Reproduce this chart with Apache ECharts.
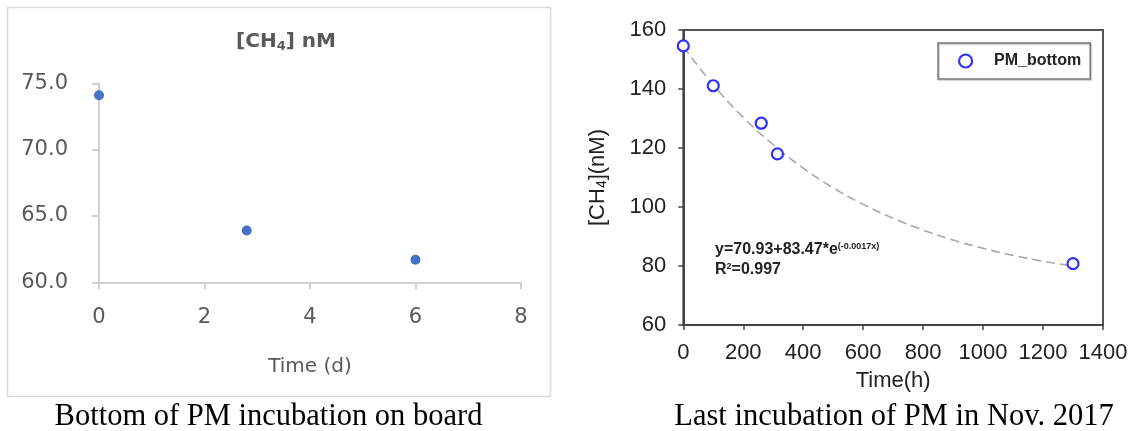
<!DOCTYPE html>
<html>
<head>
<meta charset="utf-8">
<script src="https://cdn.jsdelivr.net/npm/echarts@6/dist/echarts.min.js"></script>
<style>
html,body{margin:0;padding:0;background:#fff;}
#chart{width:1131px;height:431px;}
</style>
</head>
<body>
<div id="chart"></div>
<script>
// ---- Left panel: Bottom of PM incubation on board ----
const leftDays = [0, 2.8, 6];
const leftCH4 = [74.1, 63.9, 61.7];
const leftXTicks = { min: 0, max: 8, interval: 2 };
const leftYTicks = { min: 60, max: 75, interval: 5 };

// ---- Right panel: Last incubation of PM in Nov. 2017 ----
const rightHours = [0, 100, 260, 314, 1300];
const rightCH4 = [154.6, 141.1, 128.4, 118.0, 80.8];
// dashed fitted curve
const fitHours = [0, 100, 200, 300, 400, 500, 600, 700, 800, 900, 1000, 1100, 1200, 1300];
const fitCH4 = [154.4, 141.4, 130.4, 121.1, 113.2, 106.5, 100.9, 96.2, 92.2, 88.8, 86.0, 83.6, 81.6, 80.0];
const rightXTicks = { min: 0, max: 1400, interval: 200 };
const rightYTicks = { min: 60, max: 160, interval: 20 };

const leftCaption = 'Bottom of PM incubation on board';
const rightCaption = 'Last incubation of PM in Nov. 2017';
const seriesName = 'PM_bottom';

const chart = echarts.init(document.getElementById('chart'), null, { renderer: 'canvas' });

const leftAxisColor = '#d0d0d0';
const leftTextColor = '#595959';
const leftFont = 'DejaVu Sans';
const rightAxisColor = '#444';
const rightTextColor = '#222';
const rightFont = 'Liberation Sans';

const option = {
  animation: false,
  backgroundColor: '#fff',
  grid: [
    { left: 99, right: 610, top: 83.3, bottom: 148.7, containLabel: false },
    { left: 683.3, right: 28, top: 30, bottom: 106, containLabel: false,
      show: true, borderColor: '#555', borderWidth: 2, backgroundColor: 'transparent' }
  ],
  xAxis: [
    {
      gridIndex: 0, type: 'value', min: leftXTicks.min, max: leftXTicks.max, interval: leftXTicks.interval,
      name: 'Time (d)', nameLocation: 'middle', nameGap: 74,
      nameTextStyle: { color: leftTextColor, fontFamily: leftFont, fontSize: 20 },
      axisLine: { show: true, onZero: false, lineStyle: { color: leftAxisColor, width: 2 } },
      axisTick: { show: true, inside: false, length: 7, lineStyle: { color: leftAxisColor, width: 2 } },
      axisLabel: { color: leftTextColor, fontFamily: leftFont, fontSize: 21, margin: 25 },
      splitLine: { show: false }
    },
    {
      gridIndex: 1, type: 'value', min: rightXTicks.min, max: rightXTicks.max, interval: rightXTicks.interval,
      name: 'Time(h)', nameLocation: 'middle', nameGap: 45,
      nameTextStyle: { color: rightTextColor, fontFamily: rightFont, fontSize: 22 },
      axisLine: { show: true, onZero: false, lineStyle: { color: rightAxisColor, width: 2 } },
      axisTick: { show: true, inside: false, length: 5, lineStyle: { color: rightAxisColor, width: 1.5 } },
      axisLabel: { color: rightTextColor, fontFamily: rightFont, fontSize: 22, margin: 17,
        formatter: v => String(v) },
      splitLine: { show: false }
    }
  ],
  yAxis: [
    {
      gridIndex: 0, type: 'value', min: leftYTicks.min, max: leftYTicks.max, interval: leftYTicks.interval,
      axisLine: { show: true, onZero: false, lineStyle: { color: leftAxisColor, width: 2 } },
      axisTick: { show: true, inside: false, length: 7, lineStyle: { color: leftAxisColor, width: 2 } },
      axisLabel: { color: leftTextColor, fontFamily: leftFont, fontSize: 21, margin: 31,
        formatter: v => v.toFixed(1) },
      splitLine: { show: false }
    },
    {
      gridIndex: 1, type: 'value', min: rightYTicks.min, max: rightYTicks.max, interval: rightYTicks.interval,
      name: '[CH{s|4}](nM)', nameLocation: 'middle', nameGap: 74, nameRotate: 90,
      nameTextStyle: { color: rightTextColor, fontFamily: rightFont, fontSize: 22, lineHeight: 22,
        rich: { s: { fontFamily: rightFont, fontSize: 14, color: rightTextColor, verticalAlign: 'bottom', lineHeight: 8 } } },
      axisLine: { show: true, onZero: false, lineStyle: { color: rightAxisColor, width: 2 } },
      axisTick: { show: true, inside: false, length: 5, lineStyle: { color: rightAxisColor, width: 1.5 } },
      axisLabel: { color: rightTextColor, fontFamily: rightFont, fontSize: 22, margin: 17 },
      splitLine: { show: false }
    }
  ],
  legend: {
    data: [seriesName],
    left: 938, top: 43,
    padding: [10, 9, 10, 20],
    itemWidth: 13, itemHeight: 13,
    borderColor: '#777', borderWidth: 1.5,
    shadowColor: 'rgba(0,0,0,0.25)', shadowOffsetX: 1, shadowOffsetY: 1, shadowBlur: 1,
    itemStyle: { color: '#fff', borderColor: '#3030ff', borderWidth: 2.2, opacity: 1 },
    textStyle: { fontFamily: rightFont, fontWeight: 'bold', fontSize: 16, color: '#222', padding: [0, 0, 0, 17] }
  },
  series: [
    {
      type: 'scatter', name: 'left', xAxisIndex: 0, yAxisIndex: 0,
      symbol: 'circle', symbolSize: 10,
      itemStyle: { color: '#4472C4', opacity: 1 },
      data: leftDays.map((d, i) => [d, leftCH4[i]])
    },
    {
      type: 'line', name: 'fit', xAxisIndex: 1, yAxisIndex: 1,
      smooth: true, showSymbol: false, symbol: 'none', z: 1,
      lineStyle: { color: '#a8a8a8', width: 1.6, type: [9, 5] },
      data: fitHours.map((h, i) => [h, fitCH4[i]])
    },
    {
      type: 'scatter', name: seriesName, xAxisIndex: 1, yAxisIndex: 1, z: 3,
      symbol: 'circle', symbolSize: 11,
      itemStyle: { color: '#fff', borderColor: '#3030ff', borderWidth: 2.2, opacity: 1 },
      data: rightHours.map((h, i) => [h, rightCH4[i]])
    }
  ],
  graphic: [
    {
      type: 'rect', silent: true, z: -1,
      shape: { x: 7.5, y: 7.5, width: 543, height: 389 },
      style: { fill: 'none', stroke: '#d9d9d9', lineWidth: 1.5 }
    },
    {
      type: 'text', x: 286, y: 42,
      style: {
        text: '[CH{s|4}] nM',
        font: 'bold 20px "DejaVu Sans"', fill: leftTextColor,
        align: 'center', verticalAlign: 'middle', lineHeight: 22,
        rich: { s: { font: 'bold 13px "DejaVu Sans"', fill: leftTextColor, verticalAlign: 'bottom', lineHeight: 6 } }
      }
    },
    {
      type: 'text', x: 715, y: 240,
      style: {
        text: 'y=70.93+83.47*e{p|(-0.0017x)}\nR{p|2}=0.997',
        font: 'bold 16px "Liberation Sans"', fill: '#222',
        align: 'left', verticalAlign: 'top', lineHeight: 20,
        rich: { p: { font: 'bold 9px "Liberation Sans"', fill: '#222', verticalAlign: 'top', lineHeight: 9, padding: [2, 0, 0, 0] } }
      }
    },
    {
      type: 'text', x: 268.5, y: 417,
      style: { text: leftCaption, font: '30.5px "Liberation Serif"', fill: '#000', align: 'center', verticalAlign: 'middle' }
    },
    {
      type: 'text', x: 894, y: 417,
      style: { text: rightCaption, font: '30.5px "Liberation Serif"', fill: '#000', align: 'center', verticalAlign: 'middle' }
    }
  ]
};

chart.setOption(option);
</script>
</body>
</html>
